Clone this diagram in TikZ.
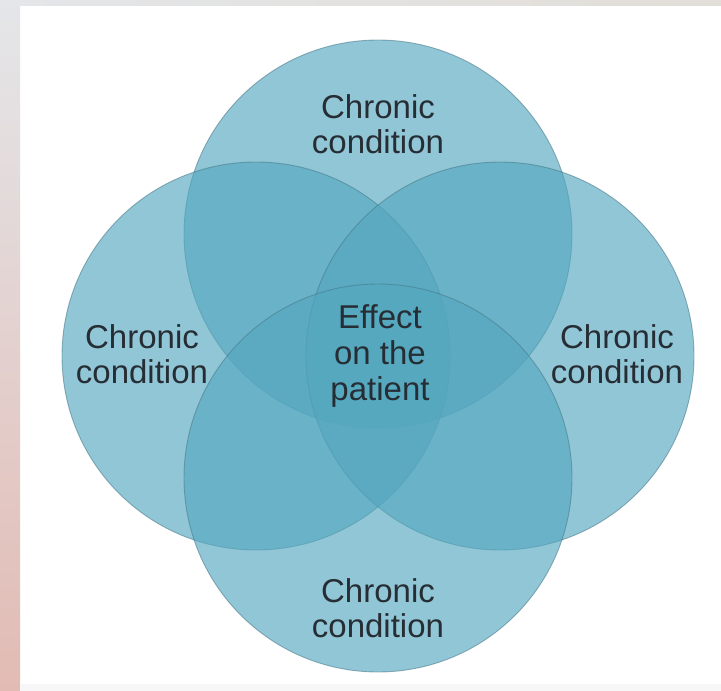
\documentclass[tikz,border=0pt]{standalone}
\usepackage{fontspec}
\setmainfont{Liberation Sans}
\definecolor{teal}{RGB}{84,167,191}
\definecolor{rim}{RGB}{70,120,135}
\definecolor{txt}{RGB}{38,45,52}
\definecolor{stripA}{RGB}{228,230,233}
\definecolor{stripB}{RGB}{226,187,180}
\definecolor{topR}{RGB}{226,222,216}
\begin{document}
\begin{tikzpicture}[x=1pt,y=-1pt,
  venn/.style={fill=teal,fill opacity=0.64,draw=rim,draw opacity=0.55,line width=0.9pt},
  lbl/.style={text=txt,align=center,font=\fontsize{33}{35}\selectfont,inner sep=0pt}]
\useasboundingbox (0,0) rectangle (721,691);
\fill[white] (0,0) rectangle (721,691);
\shade[left color=stripA,right color=topR] (0,0) rectangle (721,5);
\shade[top color=stripA,bottom color=stripB] (0,0) rectangle (20,691);
\fill[black!3] (20,684) rectangle (721,691);
% circles
\path[venn] (378,234) circle[radius=194];
\path[venn] (256,356) circle[radius=194];
\path[venn] (500,356) circle[radius=194];
\path[venn] (378,478) circle[radius=194];
% labels
\node[lbl] (top) at (378,124) {Chronic\\condition};
\node[lbl] (left) at (142,354) {Chronic\\condition};
\node[lbl] (right) at (617,354) {Chronic\\condition};
\node[lbl] (bottom) at (378,608) {Chronic\\condition};
\node[lbl,font=\fontsize{33}{36}\selectfont] (centre) at (380,356) {Effect\\on the\\patient};
\end{tikzpicture}
\end{document}
